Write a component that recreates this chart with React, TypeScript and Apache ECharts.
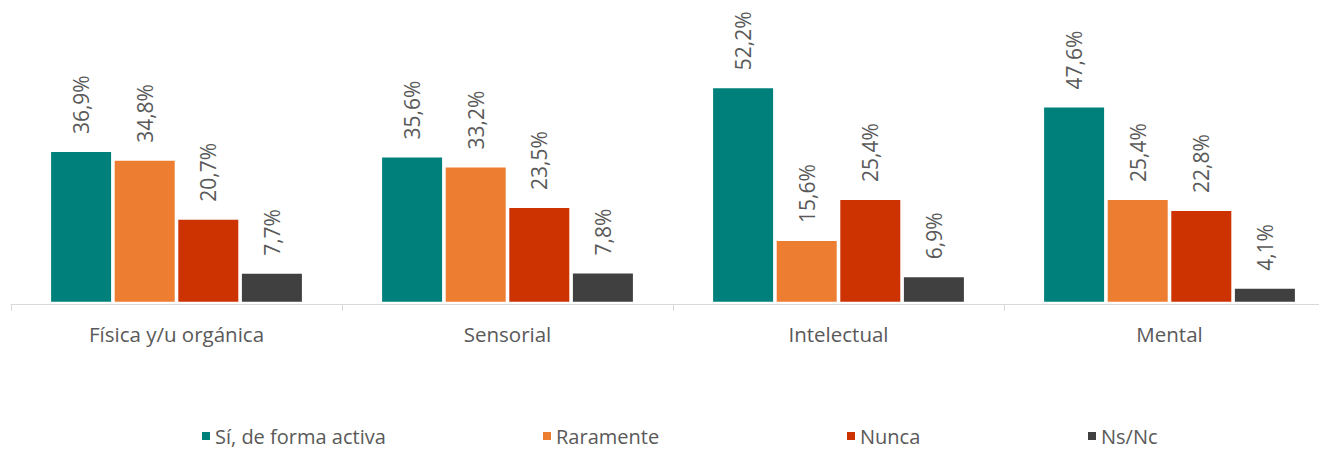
import React, { useEffect, useRef } from "react";
import * as echarts from "echarts";

const categories = ["Física y/u orgánica", "Sensorial", "Intelectual", "Mental"];
const seriesNames = ["Sí, de forma activa", "Raramente", "Nunca", "Ns/Nc"];
const activa = [36.9, 35.6, 52.2, 47.6];
const raramente = [34.8, 33.2, 15.6, 25.4];
const nunca = [20.7, 23.5, 25.4, 22.8];
const nsnc = [7.7, 7.8, 6.9, 4.1];
const colors = ["#00807A", "#ED7D31", "#CC3300", "#404040"];
const legendLefts = [202, 543, 847, 1088];

const FONT = "'Open Sans', 'DejaVu Sans', sans-serif";
const TEXT = "#595959";

export default function App() {
  const ref = useRef<HTMLDivElement>(null);
  useEffect(() => {
    if (!ref.current) return;
    const chart = echarts.init(ref.current, null, { renderer: "svg" });
    const values = [activa, raramente, nunca, nsnc];
    chart.setOption({
      animation: false,
      textStyle: { fontFamily: FONT },
      grid: { left: 11, width: 1324, top: 55.8, height: 246 },
      legend: seriesNames.map((n, i) => ({
        data: [n],
        left: legendLefts[i],
        top: 426,
        padding: 0,
        icon: "rect",
        itemWidth: 8,
        itemHeight: 8,
        selectedMode: false,
        textStyle: { color: TEXT, fontSize: 20, fontFamily: FONT },
      })),
      xAxis: {
        type: "category",
        data: categories,
        offset: 2,
        axisLine: { lineStyle: { color: "#D9D9D9", width: 1 } },
        axisTick: { show: true, length: 7, interval: 0, lineStyle: { color: "#D9D9D9" } },
        axisLabel: { color: TEXT, fontSize: 20.5, fontFamily: FONT, margin: 20, interval: 0 },
      },
      yAxis: { type: "value", min: 1, max: 60, show: false, splitLine: { show: false } },
      series: seriesNames.map((n, i) => ({
        name: n,
        type: "bar",
        data: values[i],
        barWidth: 60,
        barGap: "6%",
        itemStyle: { color: colors[i] },
        label: {
          show: true,
          position: "top",
          distance: 18,
          rotate: 90,
          align: "left",
          verticalAlign: "middle",
          color: TEXT,
          fontSize: 21,
          fontFamily: FONT,
          formatter: (p: any) => p.value.toFixed(1).replace(".", ",") + "%",
        },
      })),
    });
    return () => chart.dispose();
  }, []);
  return (
    <div style={{ position: "absolute", left: 0, top: 0, width: 1319, height: 449, overflow: "hidden", background: "#fff" }}>
      <div ref={ref} style={{ width: 1340, height: 449 }} />
    </div>
  );
}
